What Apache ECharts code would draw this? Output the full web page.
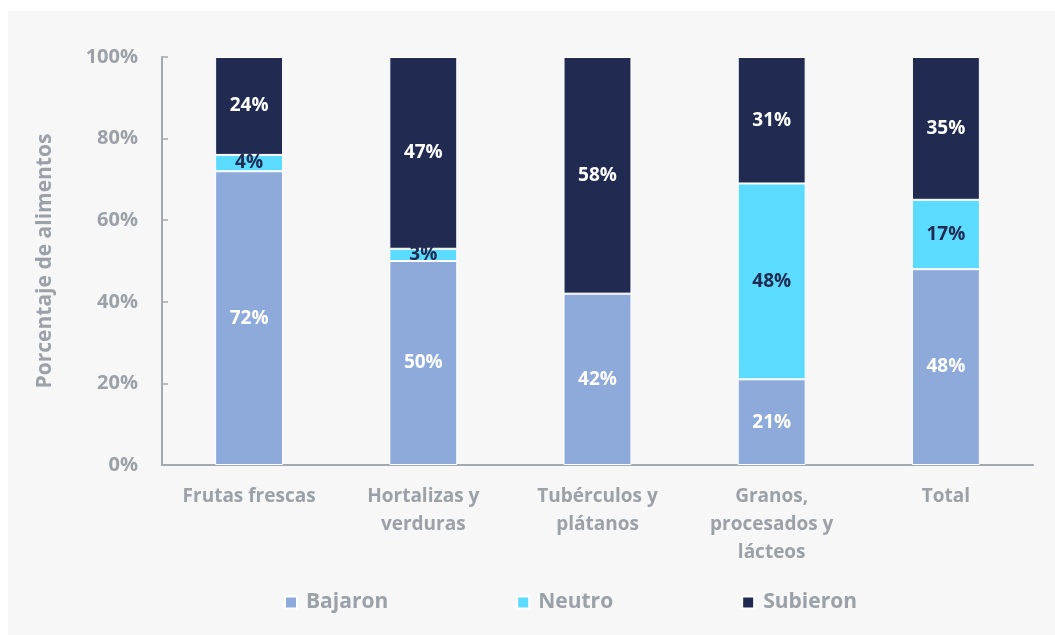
<!DOCTYPE html>
<html>
<head>
<meta charset="utf-8">
<script src="https://cdn.jsdelivr.net/npm/echarts@6/dist/echarts.min.js"></script>
<style>
  html, body { margin: 0; padding: 0; background: #ffffff; }
  #chart { position: absolute; left: 8px; top: 11px; width: 1047px; height: 624px; background: #f7f7f7; }
</style>
</head>
<body>
<div id="chart"></div>
<script>
// categorias y porcentajes
var categorias = ['Frutas frescas', 'Hortalizas y\nverduras', 'Tubérculos y\nplátanos', 'Granos,\nprocesados y\nlácteos', 'Total'];
var bajaron  = [72, 50, 42, 21, 48];
var neutro   = [4, 3, 0, 48, 17];
var subieron = [24, 47, 58, 31, 35];
var ticksY   = [0, 20, 40, 60, 80, 100];

var gris = '#9aa1a9';
var fuente = '"Open Sans", Lato, sans-serif';

function serie(nombre, datos, color, colorTexto) {
    return {
        name: nombre,
        type: 'bar',
        stack: 'total',
        data: datos,
        barWidth: '39%',
        itemStyle: { color: color, borderColor: '#ffffff', borderWidth: 1 },
        label: {
            show: true,
            position: 'inside',
            color: colorTexto,
            fontFamily: fuente,
            fontWeight: 'bold',
            fontSize: 19,
            formatter: function(p) { return p.value ? p.value + '%' : ''; }
        }
    };
}

var myChart = echarts.init(document.getElementById('chart'));
myChart.setOption({
    animation: false,
    textStyle: { fontFamily: fuente },
    grid: { left: 154, right: 22, top: 46, bottom: 170 },
    legend: {
        left: 271,
        top: 576,
        itemWidth: 12,
        itemHeight: 12,
        itemGap: 128,
        icon: 'rect',
        textStyle: { color: gris, fontSize: 21, fontWeight: 'bold', fontFamily: fuente, padding: [0, 0, 0, 4] }
    },
    xAxis: {
        type: 'category',
        data: categorias,
        axisLine: { lineStyle: { color: '#a3a9b0', width: 2 } },
        axisTick: { show: false },
        axisLabel: {
            color: gris,
            fontSize: 19,
            fontWeight: 'bold',
            lineHeight: 28,
            margin: 18,
            fontFamily: fuente
        }
    },
    yAxis: {
        type: 'value',
        min: ticksY[0],
        max: ticksY[ticksY.length - 1],
        interval: 20,
        name: 'Porcentaje de alimentos',
        nameLocation: 'middle',
        nameGap: 106,
        nameTextStyle: { color: gris, fontSize: 21, fontWeight: 'bold', fontFamily: fuente },
        splitLine: { show: false },
        axisLine: { show: true, lineStyle: { color: '#a3a9b0', width: 2 } },
        axisTick: { show: true, inside: true, length: 6, lineStyle: { color: '#a3a9b0', width: 1.5 } },
        axisLabel: {
            color: gris,
            fontSize: 20,
            fontWeight: 'bold',
            margin: 24,
            fontFamily: fuente,
            formatter: '{value}%'
        }
    },
    series: [
        serie('Bajaron', bajaron, '#8eaadb', '#ffffff'),
        serie('Neutro', neutro, '#5bdbff', '#212b52'),
        serie('Subieron', subieron, '#212b52', '#ffffff')
    ]
});
</script>
</body>
</html>
